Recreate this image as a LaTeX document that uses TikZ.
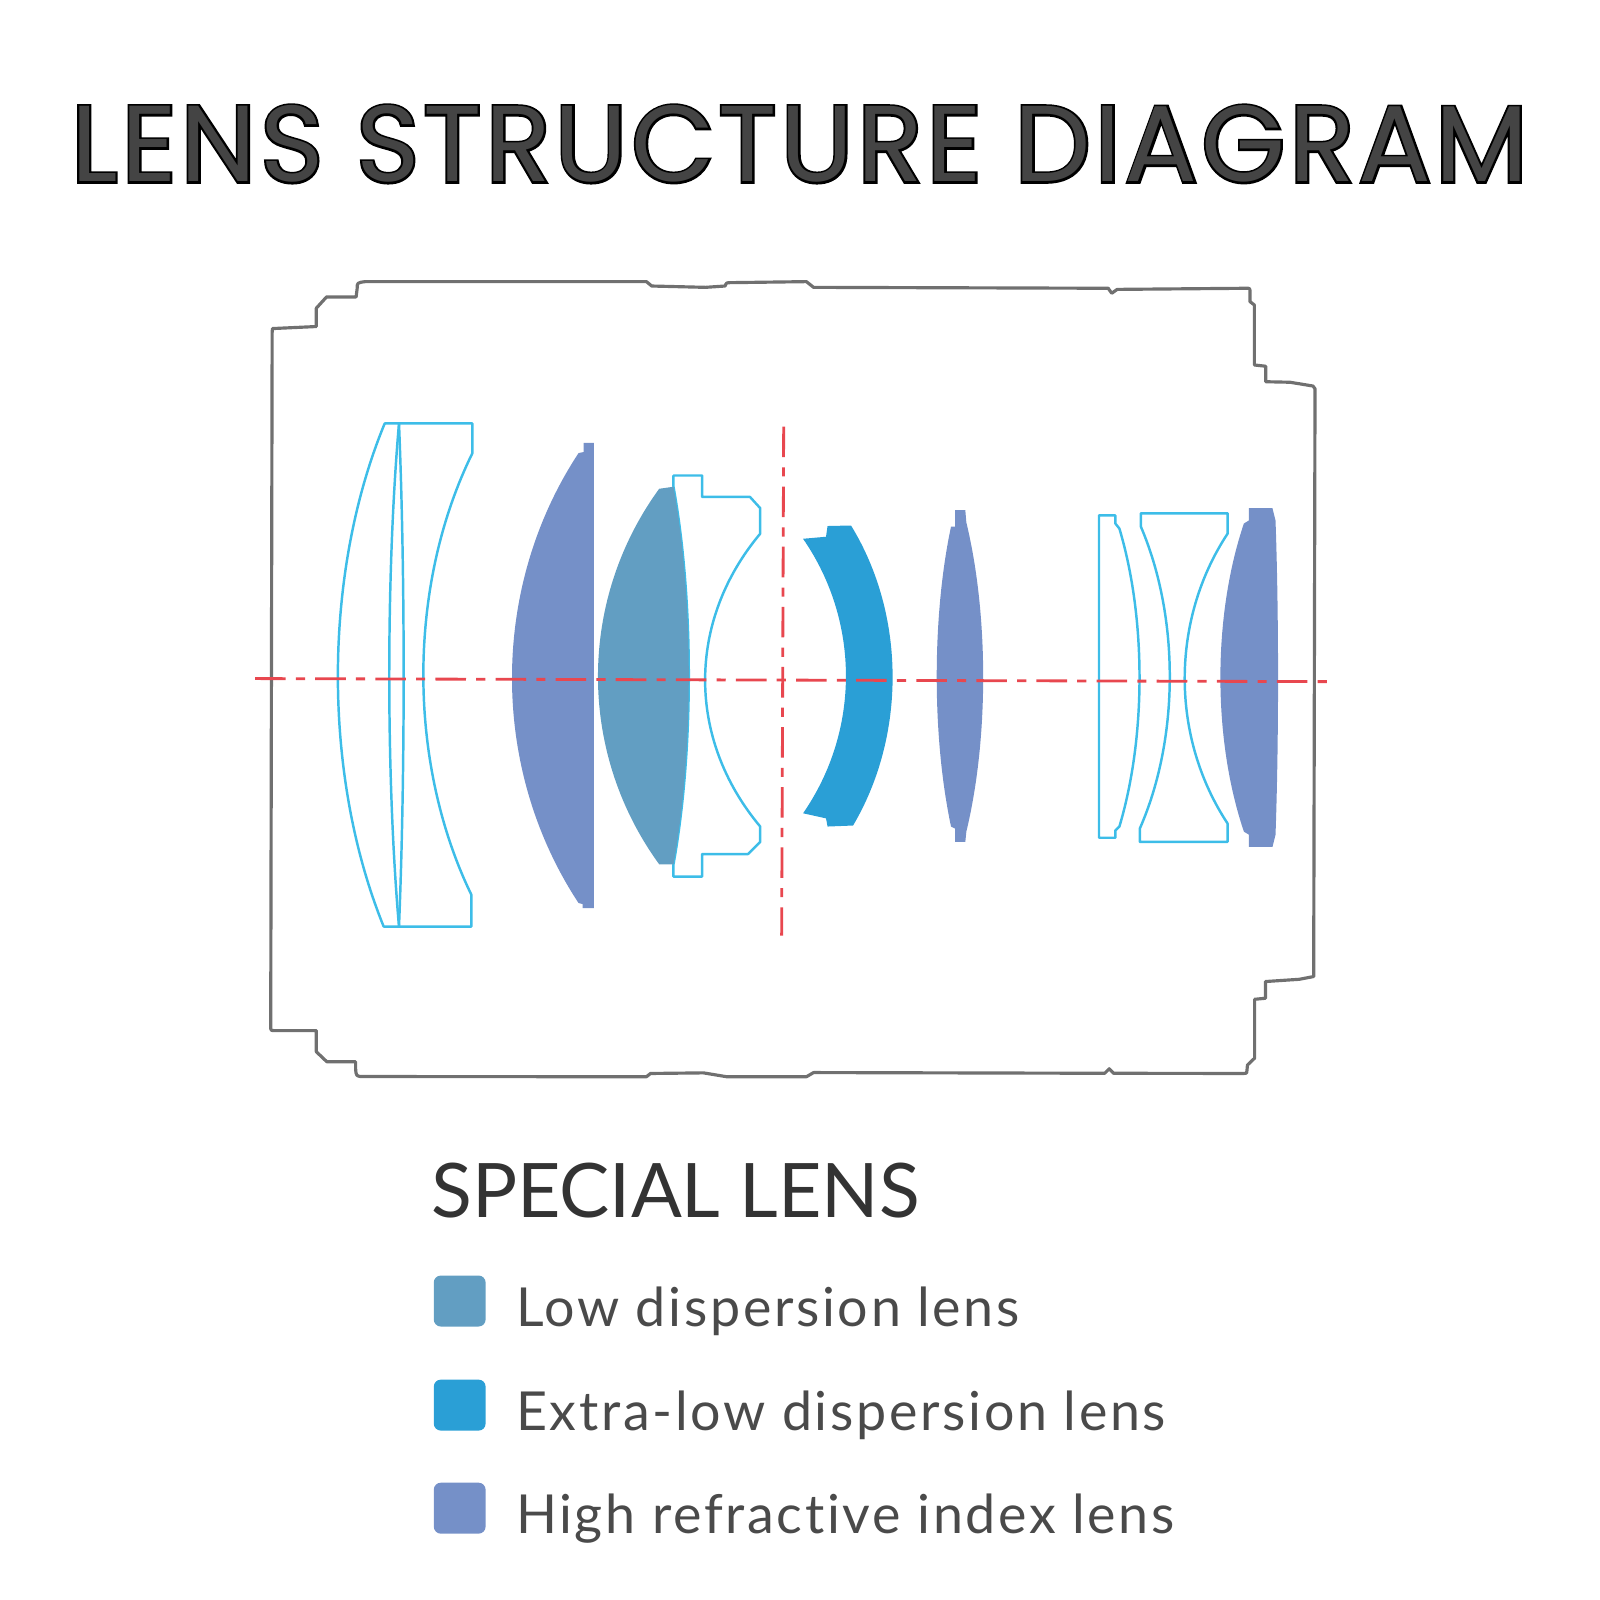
\documentclass[tikz,border=0pt]{standalone}
\usepackage{fontspec}
\newfontfamily\titlefont[LetterSpace=3.5]{Poppins}
\newfontfamily\titleedge[LetterSpace=3.5, FakeBold=4]{Poppins}
\newfontfamily\headfont{Lato}
\newfontfamily\legendfont[LetterSpace=5, Ligatures=NoCommon]{Lato}
\usetikzlibrary{positioning}

\definecolor{barrelgray}{HTML}{707070}
\definecolor{lensedge}{HTML}{3DBDE8}
\definecolor{axisred}{HTML}{E8474F}
\definecolor{lowdisp}{HTML}{629EC2}
\definecolor{extralow}{HTML}{2A9FD6}
\definecolor{highref}{HTML}{7590C8}
\definecolor{titlegray}{HTML}{444444}
\definecolor{headgray}{HTML}{333333}
\definecolor{legendgray}{HTML}{4A4A4A}

\tikzset{
	barrel/.style={draw=barrelgray, line width=0.9pt, line join=round},
	lensline/.style={draw=lensedge, line width=0.7pt, line join=round},
	axisline/.style={draw=axisred, line width=0.8pt, dash pattern=on 8.7pt off 2.9pt on 2.6pt off 2.9pt},
	legendkey/.style={fill, rounded corners=2pt, minimum width=14.75pt, minimum height=14.5pt, inner sep=0pt},
	legendtext/.style={text=legendgray, inner sep=0pt, font=\legendfont\fontsize{15.3pt}{18pt}\selectfont}
}

\begin{document}
\begin{tikzpicture}[x=0.10204mm, y=-0.10204mm]
	\useasboundingbox (0,0) rectangle (1568,1568);

	% title
	\node[anchor=base, inner sep=0pt, text=black] (titleback) at (783.5,178) {\titleedge\fontsize{30.7pt}{36pt}\selectfont LENS STRUCTURE DIAGRAM};
	\node[anchor=base, inner sep=0pt, text=titlegray] (title) at (783.5,178) {\titlefont\fontsize{30.7pt}{36pt}\selectfont LENS STRUCTURE DIAGRAM};

	% barrel
	\draw[barrel] (267,322) -- (310,320) -- (310,302) -- (320,291) -- (349,291) -- (350,283) .. controls (350,277) .. (358,276)
		-- (633.5,276) -- (638.7,280.3) -- (691.3,281.6) -- (710.5,280.3) .. controls (712,277) .. (716,277)
		-- (790.3,276) -- (797.3,281.6) -- (1086,282.5) -- (1089.5,287.4) -- (1094.8,283.6) -- (1221.8,282.5)
		.. controls (1225,282.5) .. (1225,287) -- (1225,295.6) -- (1229.3,298.9) -- (1229.3,357.7) -- (1240.4,358.9)
		-- (1240.4,374.1) -- (1264.2,374.6) -- (1286.7,378.3) -- (1288.7,381) -- (1287.4,957) -- (1273.3,959.7)
		-- (1240.1,961.9) -- (1240.1,978.3) -- (1229.5,979.3) -- (1229.5,1037) -- (1222.5,1043.7) -- (1222,1049)
		.. controls (1222,1052) .. (1219,1052) -- (1091.3,1051.8) -- (1087,1047.4) -- (1082.6,1051.8) -- (797.3,1051.1)
		-- (790.3,1055.2) -- (712.3,1055.2) -- (689.5,1051.4) -- (637.5,1052) -- (633.5,1055.2) -- (357,1055)
		.. controls (349,1055) .. (348.5,1047) -- (348.5,1040.5) -- (320.3,1040.5) -- (310,1030.7) -- (310,1010)
		-- (270,1010) .. controls (265.3,1010) .. (265.3,1006) -- (266.7,326) .. controls (267,322) .. cycle;

	% first group
	\draw[lensline] (391,415) -- (377,415) .. controls (316,563) and (316,760) .. (376,908) -- (391,908);
	\draw[lensline] (391,415) -- (463,415) -- (463,444) .. controls (399,574) and (399,747) .. (462,877) -- (462,908) -- (391,908);
	\draw[lensline] (391,415) .. controls (378.3,563) and (378.3,760) .. (391,908);
	\draw[lensline] (391,415) .. controls (397.1,563) and (397.1,760) .. (391,908);

	\fill[highref] (582,434) -- (572,434) -- (572,443) -- (567,444) .. controls (480,576) and (480,753) .. (567,885)
		-- (571,886) -- (571,890) -- (582,890) -- cycle;

	\draw[lensline] (660,477) -- (660,466) -- (688,466) -- (688,487) -- (735,487) -- (745,498) -- (745,523)
		.. controls (673,609) and (673,724) .. (745,810) -- (745,825) -- (733,837) -- (688,837) -- (688,859)
		-- (660,859) -- (660,847) .. controls (680,736) and (680,588) .. (660,477);
	\fill[lowdisp] (646,479) -- (660,477) .. controls (680,588) and (680,736) .. (660,847) -- (646,847)
		.. controls (566,737) and (566,589) .. (646,479) -- cycle;

	% second group
	\fill[extralow] (787,528) -- (809.5,526) -- (811,515.5) -- (834,515) .. controls (888,603) and (888,721) .. (836,809)
		-- (811,810) -- (809.5,802) -- (787,797) .. controls (843,716) and (843,609) .. cycle;

	\fill[highref] (936,500) -- (946,500) -- (947,512) .. controls (969,603) and (969,724) .. (947,815) -- (946,825)
		-- (936,825) -- (936,812) -- (932,810) .. controls (913.3,722) and (913.3,604) .. (932,516) -- (936,516) -- cycle;

	\draw[lensline] (1077,505) -- (1093,505) -- (1093,513) -- (1097,518) .. controls (1123.3,606) and (1123.3,722) .. (1097,810)
		-- (1093,814) -- (1093,821) -- (1077,821) -- cycle;
	\draw[lensline] (1118,503) -- (1203,503) -- (1203,523) .. controls (1147,608) and (1147,722) .. (1203,807)
		-- (1203,825) -- (1117,825) -- (1117,812) .. controls (1156,723) and (1156,605) .. (1118,516) -- cycle;

	\fill[highref] (1224,498) -- (1247,498) -- (1250,510) .. controls (1253.3,602) and (1253.3,726) .. (1250,818)
		-- (1247,830) -- (1224,830) -- (1224,818) -- (1219,815) .. controls (1188.3,724) and (1188.3,604) .. (1219,513)
		-- (1224,510) -- cycle;

	% axes
	\coordinate (axisL) at (250,665);
	\coordinate (axisR) at (1302,668);
	\coordinate (stopT) at (768,418);
	\coordinate (stopB) at (766,917);
	\draw[axisline] (axisL) -- (axisR);
	\draw[axisline] (stopT) -- (stopB);

	% legend
	\node[anchor=base west, inner sep=0pt, text=headgray, font=\headfont\fontsize{21.4pt}{26pt}\selectfont] (legendtitle) at (422,1193) {SPECIAL LENS};

	\node[legendkey, fill=lowdisp] (keylow) at (450.5,1275) {};
	\node[legendkey, fill=extralow] (keyextra) at (450.5,1377) {};
	\node[legendkey, fill=highref] (keyhigh) at (450.5,1478) {};

	\node[legendtext, anchor=base west] (textlow) at (505,1300) {Low dispersion lens};
	\node[legendtext, anchor=base west] (textextra) at (505,1402) {Extra-low dispersion lens};
	\node[legendtext, anchor=base west] (texthigh) at (505,1503) {High refractive index lens};
\end{tikzpicture}
\end{document}
